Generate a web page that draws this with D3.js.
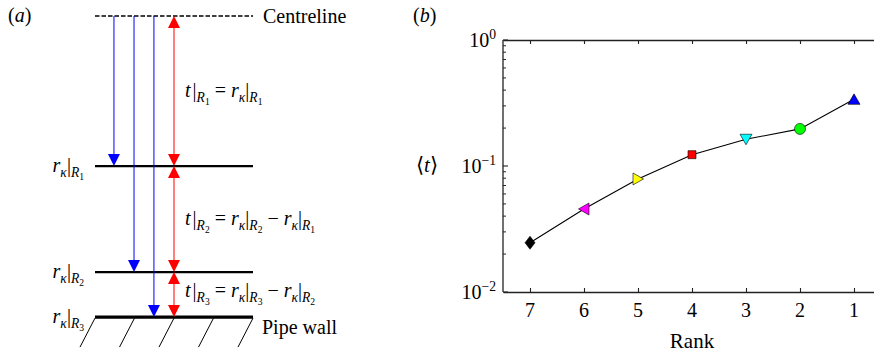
<!DOCTYPE html>
<html>
<head>
<meta charset="utf-8">
<script src="https://cdn.jsdelivr.net/npm/d3@7"></script>
<style>
  svg text, svg tspan { font-family: "Liberation Serif", "Times New Roman", serif !important; }
</style>
</head>
<body style="margin:0">
<svg id="fig" width="874" height="356"></svg>
<script>
// ---- Panel (b) data: mean time fraction per rank ----
const ranks = [7, 6, 5, 4, 3, 2, 1];
const meanT = [0.0246, 0.0456, 0.0789, 0.123, 0.163, 0.197, 0.338];
const markerShapes = ['diamond', 'triLeft', 'triRight', 'square', 'triDown', 'circle', 'triUp'];
const markerColors = ['#000000', '#ff00ff', '#ffff00', '#ff0000', '#00ffff', '#00ff00', '#0000ff'];
const xTickLabels = ['7', '6', '5', '4', '3', '2', '1'];
const yDecadeExps = [0, -1, -2];

// ---- Panel (a) schematic: normalised depth from centreline (0) to wall (1) ----
const levelDepth = [0, 0.497, 0.848, 0.997];

const FONT = 'Liberation Serif';
const svg = d3.select('#fig');

function setFont(t, size) {
  return t.attr('font-family', FONT).attr('font-size', size)
    .style('font-family', FONT, 'important').style('font-size', size + 'px');
}

// Small helper for inline math: italic symbols, sub- and sub-sub-scripts
function mathText(sel, x, y, parts, opts = {}) {
  const base = opts.size || 20;
  const t = setFont(sel.append('text').attr('x', x).attr('y', y), base)
    .attr('text-anchor', opts.anchor || 'start');
  const shift = { 0: 0, 1: 5, 2: 8, '-1': -8 };
  const size = { 0: base, 1: base * 0.68, 2: base * 0.48, '-1': base * 0.68 };
  let cur = 0;
  parts.forEach(p => {
    const lvl = p.lvl || 0;
    const target = shift[lvl];
    const ts = t.append('tspan')
      .attr('dy', target - cur)
      .attr('font-size', size[lvl]).style('font-size', size[lvl] + 'px')
      .style('font-family', FONT, 'important')
      .text(p.t);
    if (p.it) ts.attr('font-style', 'italic');
    if (p.dx) ts.attr('dx', p.dx);
    cur = target;
  });
  return t;
}
function plainText(sel, x, y, str, size, anchor) {
  return setFont(sel.append('text').attr('x', x).attr('y', y), size)
    .attr('text-anchor', anchor || 'start').text(str);
}

// =================== Panel (a) ===================
const ga = svg.append('g');
const xa = d3.scaleLinear().domain([0, 1]).range([95, 253]);
const ya = d3.scaleLinear().domain([0, 1]).range([16, 318]);

// blue arrow columns and red measurement column (fractions of the level width)
const blueCols = [0.12, 0.247, 0.373];
const redCol = 0.5;
const ah = 12, aw = 6;

function arrowHead(g, x, yTip, dir, color) {
  // dir = +1 pointing down, -1 pointing up
  g.append('path')
    .attr('d', `M${x},${yTip} L${x - aw},${yTip - dir * ah} L${x + aw},${yTip - dir * ah} Z`)
    .attr('fill', color);
}

mathText(ga, 8, 22, [{ t: '(' }, { t: 'a', it: true }, { t: ')' }]);

// centreline
ga.append('line')
  .attr('x1', xa(0)).attr('x2', xa(1))
  .attr('y1', ya(levelDepth[0])).attr('y2', ya(levelDepth[0]))
  .attr('stroke', '#000').attr('stroke-width', 1.3)
  .attr('stroke-dasharray', '4.5,2');
plainText(ga, 263, ya(0) + 6.5, 'Centreline', 20);

// rank levels
[1, 2, 3].forEach(i => {
  ga.append('line')
    .attr('x1', xa(0)).attr('x2', xa(1))
    .attr('y1', ya(levelDepth[i])).attr('y2', ya(levelDepth[i]))
    .attr('stroke', '#000').attr('stroke-width', i === 3 ? 3.2 : 2.4);
});

// wall hatching
d3.range(0, 1.0001, 0.25).forEach(f => {
  ga.append('line')
    .attr('x1', xa(f)).attr('y1', ya(levelDepth[3]) + 1)
    .attr('x2', xa(f) - 15).attr('y2', ya(levelDepth[3]) + 30)
    .attr('stroke', '#000').attr('stroke-width', 1);
});
plainText(ga, 262, 334, 'Pipe wall', 20);

// blue arrows: centreline down to each level
blueCols.forEach((c, i) => {
  const x = xa(c), y1 = ya(levelDepth[0]), y2 = ya(levelDepth[i + 1]);
  ga.append('line').attr('x1', x).attr('x2', x).attr('y1', y1).attr('y2', y2 - ah + 1)
    .attr('stroke', '#0000ff').attr('stroke-width', 1);
  arrowHead(ga, x, y2, 1, '#0000ff');
});

// red double arrows between successive levels
for (let i = 0; i < 3; i++) {
  const x = xa(redCol), y1 = ya(levelDepth[i]), y2 = ya(levelDepth[i + 1]);
  ga.append('line').attr('x1', x).attr('x2', x).attr('y1', y1 + ah - 1).attr('y2', y2 - ah + 1)
    .attr('stroke', '#ff0000').attr('stroke-width', 1);
  arrowHead(ga, x, y1, -1, '#ff0000');
  arrowHead(ga, x, y2, 1, '#ff0000');
}

// level labels on the left
const rk = n => [{ t: 'r', it: true }, { t: 'κ', it: true, lvl: 1 }, { t: '|' }, { t: 'R', it: true, lvl: 1 }, { t: n, lvl: 2 }];
[1, 2, 3].forEach(i => {
  mathText(ga, 84, ya(levelDepth[i]) + 6, rk(String(i)), { anchor: 'end' });
});

// interval labels
const tR = n => [{ t: 't', it: true }, { t: '|', dx: 2 }, { t: 'R', it: true, lvl: 1 }, { t: n, lvl: 2 }];
const eq = [{ t: '=', dx: 5 }];
const minus = [{ t: '−', dx: 5 }];
function withGap(arr) { arr[0] = Object.assign({}, arr[0], { dx: 5 }); return arr; }
mathText(ga, 185, 97, [...tR('1'), ...eq, ...withGap(rk('1'))]);
mathText(ga, 185, 225, [...tR('2'), ...eq, ...withGap(rk('2')), ...minus, ...withGap(rk('1'))]);
mathText(ga, 185, 297, [...tR('3'), ...eq, ...withGap(rk('3')), ...minus, ...withGap(rk('2'))]);

// =================== Panel (b) ===================
const gb = svg.append('g');
const x = d3.scaleLinear().domain([7.5, 0.5]).range([503, 881]);
const y = d3.scaleLog().domain([0.01, 1]).range([292, 40]);
const axisColor = '#222';

mathText(gb, 413, 22, [{ t: '(' }, { t: 'b', it: true }, { t: ')' }]);

// bottom and top frame lines with inward ticks
function frameAxis(axisGen, yPos) {
  const a = gb.append('g').attr('transform', `translate(0,${yPos})`).call(axisGen);
  a.attr('font-family', null).attr('font-size', null).attr('text-anchor', null).attr('fill', null);
  a.selectAll('text').remove();
  a.select('.domain').attr('stroke', axisColor).attr('stroke-width', 1.3).attr('fill', 'none');
  a.selectAll('.tick line').attr('stroke', axisColor).attr('stroke-width', 1.1);
  return a;
}
frameAxis(d3.axisBottom(x).tickValues(ranks).tickSizeInner(-4).tickSizeOuter(0), y(0.01));
frameAxis(d3.axisTop(x).tickValues(ranks).tickSizeInner(-4).tickSizeOuter(0), y(1));
ranks.forEach((r, i) => plainText(gb, x(r), 316.5, xTickLabels[i], 20, 'middle'));

// left log axis with major and minor inward ticks
const x0 = x(7.5);
gb.append('line').attr('x1', x0).attr('x2', x0).attr('y1', y(1)).attr('y2', y(0.01))
  .attr('stroke', axisColor).attr('stroke-width', 1.3);
const minorVals = [];
[0.01, 0.1].forEach(dec => d3.range(2, 10).forEach(m => minorVals.push(dec * m)));
gb.selectAll('.minor').data(minorVals).join('line')
  .attr('x1', x0).attr('x2', x0 + 3).attr('y1', d => y(d)).attr('y2', d => y(d))
  .attr('stroke', axisColor).attr('stroke-width', 1);
gb.selectAll('.major').data(yDecadeExps).join('line')
  .attr('x1', x0).attr('x2', x0 + 5).attr('y1', d => y(Math.pow(10, d))).attr('y2', d => y(Math.pow(10, d)))
  .attr('stroke', axisColor).attr('stroke-width', 1.1);
yDecadeExps.forEach(e => {
  const exp = e < 0 ? '−' + Math.abs(e) : String(e);
  mathText(gb, 496, y(Math.pow(10, e)) + 6.5, [{ t: '10' }, { t: exp, lvl: -1 }], { anchor: 'end' });
});

// axis titles
plainText(gb, x(4), 348, 'Rank', 21, 'middle');
mathText(gb, 427, 172, [{ t: '⟨' }, { t: 't', it: true }, { t: '⟩' }], { anchor: 'middle', size: 21 });

// connecting line
const pts = ranks.map((r, i) => [x(r), y(meanT[i])]);
gb.append('path').attr('d', d3.line()(pts)).attr('fill', 'none')
  .attr('stroke', '#000').attr('stroke-width', 1.1);

// markers
function markerPath(shape) {
  switch (shape) {
    case 'diamond': return 'M0,-6.5 L5,0 L0,6.5 L-5,0 Z';
    case 'triLeft': return 'M-5.5,0 L5,-6 L5,6 Z';
    case 'triRight': return 'M5.5,0 L-5,-6 L-5,6 Z';
    case 'square': return 'M-4,-4 L4,-4 L4,4 L-4,4 Z';
    case 'triDown': return 'M0,5.5 L-6,-5 L6,-5 Z';
    case 'triUp': return 'M0,-5.5 L-6,5 L6,5 Z';
    case 'circle': return d3.symbol(d3.symbolCircle, 95)();
  }
}
gb.selectAll('.mk').data(ranks).join('path')
  .attr('transform', (r, i) => `translate(${x(r)},${y(meanT[i])})`)
  .attr('d', (r, i) => markerPath(markerShapes[i]))
  .attr('fill', (r, i) => markerColors[i])
  .attr('stroke', '#000').attr('stroke-width', 0.6);
</script>
</body>
</html>
